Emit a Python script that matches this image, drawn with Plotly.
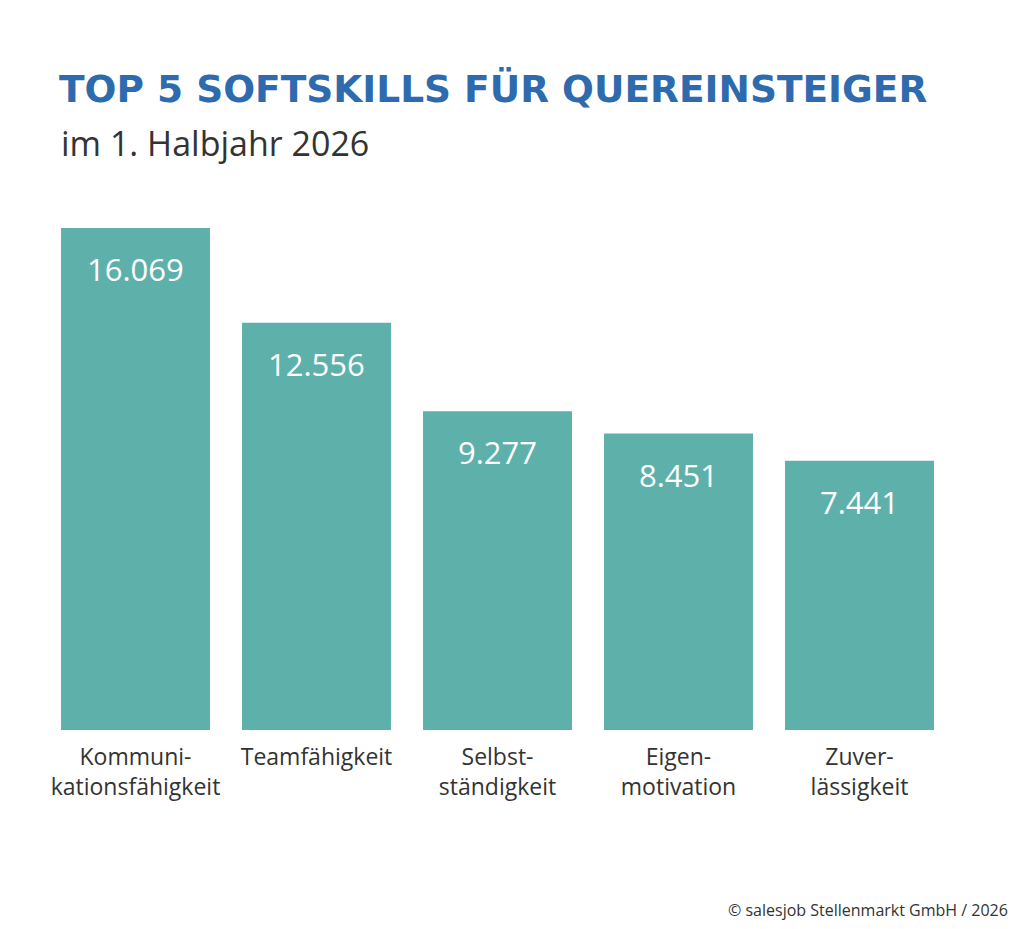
import plotly.graph_objects as go

# data
skills = ['Kommuni-<br>kationsfähigkeit', 'Teamfähigkeit', 'Selbst-<br>ständigkeit',
          'Eigen-<br>motivation', 'Zuver-<br>lässigkeit']
counts = [16069, 12556, 9277, 8451, 7441]
count_labels = ['16.069', '12.556', '9.277', '8.451', '7.441']

title_text = 'TOP 5 SOFTSKILLS FÜR QUEREINSTEIGER'
subtitle_text = 'im 1. Halbjahr 2026'
source_text = '© salesjob Stellenmarkt GmbH / 2026'

BAR_COLOR = '#5eb0ab'
TITLE_COLOR = '#2e6aae'
TEXT_COLOR = '#333333'
FONT = 'Open Sans, DejaVu Sans, sans-serif'
TITLE_FONT = 'DejaVu Sans, Open Sans, sans-serif'

# the original graphic does not start its bars at zero
BAR_BASE = -2535

fig = go.Figure()
fig.add_trace(go.Bar(
    x=skills, y=[c - BAR_BASE for c in counts], base=BAR_BASE,
    marker=dict(color=BAR_COLOR, line=dict(width=0)),
    customdata=count_labels,
    hovertemplate='%{x}: %{customdata}<extra></extra>',
))

annotations = []
for s, c, lab in zip(skills, counts, count_labels):
    annotations.append(dict(x=s, y=c, xref='x', yref='y', text=lab, showarrow=False,
                            yanchor='middle', yshift=-41,
                            font=dict(family=FONT, size=31, color='white')))

annotations += [
    dict(x=0.0133, y=1.157, xref='paper', yref='paper', xanchor='left', yanchor='middle',
         text='<b>' + title_text + '</b>', showarrow=False,
         font=dict(family=TITLE_FONT, size=37.5, color=TITLE_COLOR)),
    dict(x=0.0150, y=1.0596, xref='paper', yref='paper', xanchor='left', yanchor='middle',
         text=subtitle_text, showarrow=False,
         font=dict(family=FONT, size=34, color=TEXT_COLOR)),
    dict(x=1.066, y=-0.325, xref='paper', yref='paper', xanchor='right', yanchor='middle',
         text=source_text, showarrow=False,
         font=dict(family=FONT, size=16, color=TEXT_COLOR)),
]

fig.update_layout(
    width=1024, height=929,
    margin=dict(l=37, r=82, t=168, b=207),
    paper_bgcolor='white', plot_bgcolor='white',
    bargap=0.177,
    showlegend=False,
    annotations=annotations,
    font=dict(family=FONT, color=TEXT_COLOR),
)
fig.update_xaxes(showline=False, showgrid=False, zeroline=False, ticks='',
                 tickfont=dict(family=FONT, size=23, color=TEXT_COLOR),
                 ticklabelstandoff=11)
fig.update_yaxes(range=[BAR_BASE, 18000], visible=False, showgrid=False, zeroline=False)

fig.write_html("out.html")
